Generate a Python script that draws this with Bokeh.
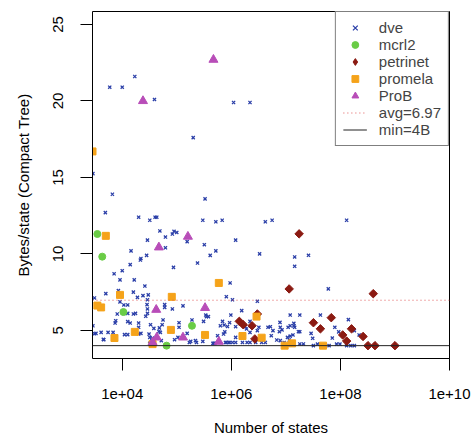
import numpy as np
from bokeh.plotting import figure
from bokeh.models import (Range1d, FixedTicker, CustomJSTickFormatter,
                          Legend, LegendItem)
from bokeh.embed import file_html
from bokeh.resources import INLINE

# ---- data: number of states vs bytes/state per tool ----
dve_states = [
    1.7e4, 5.9e3, 1.0e4, 3.9e4, 1.1e6, 2.2e6, 2.0e5, 2.9e3, 6.6e3, 4.9e3,
    3.3e5, 2.0e4, 3.2e4, 4.0e4, 4.3e4, 3.0e5, 5.2e5, 6.8e5, 4.2e6, 5.6e6,
    1.3e8, 4.9e4, 8.9e4, 1.0e5, 8.3e4, 1.55e5, 2.9e4, 6.2e4, 1.2e6, 6.2e4,
    3.2e5, 1.45e4, 5.2e5, 2.8e4, 2.2e4, 2.15e4, 4.1e5, 1.4e4, 2.4e5, 8.7e4,
    3.3e6, 1.45e7, 2.6e7, 1.45e7, 9.5e5, 7.1e3, 1.0e4, 9.1e3, 1.66e4, 2.6e4,
    8.5e3, 5.0e3, 3.1e3, 1.6e4, 2.4e4, 1.9e4, 3.0e4, 2.9e4, 9.1e3, 1.07e4,
    1.26e4, 2.85e4, 2.9e4, 2.9e4, 6.0e4, 6.0e4, 8.3e4, 1.3e5, 8.1e3, 1.07e4,
    1.26e4, 1.6e4, 1.75e4, 7.6e3, 7.4e3, 1.26e4, 1.4e4, 2.0e4, 2.7e4, 3.3e4,
    5.4e4, 5.6e4, 4.8e4, 4.7e4, 3.8e4, 1.1e5, 1.1e5, 1.9e5, 1.55e5, 3.3e3,
    4.1e3, 5.5e3, 6.8e3, 4.6e3, 1.1e4, 1.26e4, 2.0e4, 2.2e4, 3.1e4, 3.2e4,
    3.5e4, 3.6e4, 3.2e4, 5.2e4, 9.1e4, 1.05e5, 1.7e5, 2.3e5, 8.1e5, 1.05e6,
    3.0e6, 3.4e5, 3.8e5, 3.1e5, 6.9e5, 1.55e6, 9.8e5, 2.2e6, 3.2e6, 4.7e6,
    7.8e6, 7.6e6, 1.2e7, 1.7e7, 1.4e7, 1.45e7, 5.6e5, 7.2e5, 1.2e6, 1.8e6,
    1.9e6, 2.2e6, 3.0e6, 5.4e6, 5.8e6, 6.8e6, 1.15e7, 1.8e5, 2.2e5, 3.0e5,
    4.6e5, 4.8e5, 7.8e5, 8.1e5, 8.9e5, 9.3e5, 1.05e6, 1.2e6, 1.6e6, 1.95e6,
    2.2e6, 2.8e6, 3.6e6, 4.2e6, 1.2e6, 7.9e6, 1.1e7, 1.2e7, 1.4e7, 1.07e7,
    1.2e7, 1.35e7, 1.8e7, 2.9e7, 3.1e7, 7.9e7, 7.1e7, 9.3e7, 1.8e8, 2.2e8,
    1.8e7, 2.1e7, 3.2e7, 3.8e7, 6.2e7, 8.5e7, 9.8e7, 1.3e8, 1.55e8, 1.8e8,
    7.9e6, 9.3e6, 1.8e7, 4.3e7, 1.4e8, 6.0e7, 2.9e3, 3.1e3, 4.5e3, 2.0e4,
    5.0e5, 3.5e5, 6.3e5, 7.4e5, 8.5e5, 9.3e5, 7.6e5, 5.2e6, 8.5e6, 5.0e4,
]
dve_bytes = [
    21.6, 20.9, 20.9, 20.1, 19.9, 19.9, 17.6, 15.25, 13.9, 12.7,
    13.6, 12.4, 12.2, 12.4, 12.4, 12.2, 12.1, 12.2, 12.1, 12.2,
    12.2, 11.5, 11.48, 11.4, 11.3, 10.8, 10.9, 11.1, 10.9, 10.4,
    10.6, 10.2, 10.2, 9.9, 9.7, 9.6, 9.9, 9.3, 9.4, 9.12,
    10.0, 9.8, 9.91, 9.19, 8.1, 8.7, 8.9, 8.3, 8.3, 7.9,
    7.6, 7.4, 7.12, 7.5, 7.27, 7.16, 7.32, 7.0, 6.86, 6.66,
    6.66, 6.68, 6.4, 6.11, 6.68, 6.5, 6.4, 6.6, 6.07, 6.11,
    6.11, 6.07, 6.11, 5.63, 5.48, 5.57, 5.48, 5.48, 5.92, 5.37,
    5.37, 5.68, 5.16, 4.93, 5.13, 5.5, 5.2, 5.68, 4.8, 4.8,
    4.87, 4.87, 4.87, 4.39, 4.72, 4.72, 4.76, 4.8, 4.76, 4.54,
    4.33, 4.5, 4.15, 4.33, 4.39, 4.54, 4.21, 4.21, 7.2, 7.0,
    6.9, 6.0, 5.9, 5.59, 5.59, 6.29, 6.0, 5.59, 5.2, 5.2,
    5.52, 4.91, 6.0, 4.91, 5.46, 5.2, 4.65, 4.76, 5.24, 5.24,
    5.09, 4.87, 4.98, 4.65, 4.98, 4.37, 4.37, 4.28, 4.33, 4.28,
    4.15, 4.15, 4.21, 4.21, 4.21, 4.21, 4.21, 4.21, 4.21, 4.21,
    4.21, 4.21, 4.21, 4.21, 4.54, 5.2, 5.2, 5.3, 5.29, 4.54,
    4.62, 4.7, 4.91, 4.8, 4.48, 5.2, 4.5, 4.9, 4.98, 4.7,
    4.11, 4.11, 4.0, 4.1, 4.0, 4.1, 4.1, 4.0, 4.0, 4.0,
    4.33, 4.21, 6.0, 6.0, 5.7, 7.71, 5.3, 4.78, 4.41, 5.2,
    4.15, 5.9, 5.3, 5.35, 5.25, 5.5, 4.9, 5.24, 5.03, 4.87,
]

mcrl2_states = [3.5e3, 4.3e3, 1.05e4, 1.9e5, 6.5e4]
mcrl2_bytes = [11.3, 9.82, 6.2, 5.3, 4.0]

petrinet_states = [1.75e7, 1.15e7, 4.0e8, 6.8e7, 3.2e7, 4.3e7, 1.6e8, 1.1e8, 2.6e8,
                   1.3e8, 3.2e8, 4.3e8, 1.0e9, 1.4e6, 1.65e6, 2.4e6, 2.7e6, 3.0e6]
petrinet_bytes = [11.31, 7.71, 7.4, 5.83, 5.5, 5.1, 5.1, 4.7, 4.6,
                  4.3, 4.0, 4.0, 4.0, 5.59, 5.37, 5.3, 4.44, 6.07]

promela_states = [2.85e3, 5.0e3, 5.9e5, 9.1e3, 8.1e4, 3.5e3, 4.1e3, 1.7e4, 7.2e3,
                  7.8e4, 3.3e5, 3.6e4, 2.9e6, 1.6e6, 3.6e6, 9.5e6, 1.3e7, 4.8e7]
promela_bytes = [16.7, 11.18, 8.1, 7.32, 7.19, 6.62, 6.5, 4.9, 4.5,
                 5.03, 4.7, 4.1, 5.9, 4.63, 4.52, 4.0, 4.15, 4.0]

prob_states = [4.7e5, 2.4e4, 1.6e5, 4.7e4, 4.2e4, 3.3e5, 4.3e4, 1.3e5, 3.6e4, 5.9e5]
prob_bytes = [22.7, 20.0, 11.13, 10.43, 6.35, 6.47, 4.54, 4.54, 4.21, 4.26]

avg_bytes = 6.97
min_bytes = 4.0

x_ticks = [1e4, 1e6, 1e8, 1e10]
y_ticks = [5, 10, 15, 20, 25]

FONT = "Liberation Sans"
X_LO, X_HI = 2.85e3, 1e10

p = figure(width=474, height=438, x_axis_type="log",
           x_range=Range1d(X_LO, X_HI), y_range=Range1d(3.16, 25.85),
           output_backend="svg", toolbar_location=None,
           min_border_left=92, min_border_right=25,
           min_border_top=11, min_border_bottom=80)
p.xgrid.visible = False
p.ygrid.visible = False
p.outline_line_color = "black"
p.outline_line_width = 1
p.outline_line_alpha = 1

# markers
r_dve = p.scatter(dve_states, dve_bytes, marker="x", size=4.5,
                  line_color="#2b3fa8", line_width=1.3)
r_mcrl2 = p.scatter(mcrl2_states, mcrl2_bytes, marker="circle", size=7,
                    fill_color="#6acc46", line_color="#6acc46")
# petrinet: slim diamond (used by the legend) under a square turned 45 degrees
r_petri = p.scatter(petrinet_states, petrinet_bytes, marker="diamond", size=6,
                    fill_color="#8b1a12", line_color="#8b1a12")
p.scatter(petrinet_states, petrinet_bytes, marker="square", angle=np.pi / 4,
          size=6, fill_color="#8b1a12", line_color="#8b1a12")
r_prom = p.scatter(promela_states, promela_bytes, marker="square", size=7,
                   fill_color="#f5a31a", line_color="#f5a31a")
r_prob = p.scatter(prob_states, prob_bytes, marker="triangle", size=9,
                   fill_color="#b84db8", line_color="#b84db8")

# reference lines across the whole x range
r_avg = p.line(x=[X_LO, X_HI], y=[avg_bytes, avg_bytes], line_color="#e05a5a",
               line_width=1, line_dash="1 3")
r_min = p.line(x=[X_LO, X_HI], y=[min_bytes, min_bytes], line_color="#222222",
               line_width=1)

# axes
p.xaxis.ticker = FixedTicker(ticks=x_ticks)
p.xaxis.formatter = CustomJSTickFormatter(code="""
const e = Math.round(Math.log10(tick));
return '1e+' + (e < 10 ? '0' + e : String(e));
""")
p.xaxis.bounds = (x_ticks[0], x_ticks[-1])
p.yaxis.ticker = FixedTicker(ticks=y_ticks)
p.yaxis.bounds = (y_ticks[0], y_ticks[-1])
p.yaxis.major_label_orientation = "vertical"

for ax in (p.xaxis, p.yaxis):
    ax.axis_line_color = "black"
    ax.major_tick_line_color = "black"
    ax.major_tick_out = 12
    ax.major_tick_in = 0
    ax.minor_tick_line_color = None
    ax.major_label_text_font = FONT
    ax.major_label_text_font_size = "15px"
    ax.major_label_text_color = "black"
    ax.axis_label_text_font = FONT
    ax.axis_label_text_font_size = "15px"
    ax.axis_label_text_font_style = "normal"
    ax.axis_label_text_color = "black"

p.xaxis.axis_label = "Number of states"
p.yaxis.axis_label = "Bytes/state (Compact Tree)"
p.xaxis.major_label_standoff = 18
p.xaxis.axis_label_standoff = 17
p.yaxis.major_label_standoff = 17
p.yaxis.axis_label_standoff = 19

legend = Legend(items=[
    LegendItem(label="dve", renderers=[r_dve]),
    LegendItem(label="mcrl2", renderers=[r_mcrl2]),
    LegendItem(label="petrinet", renderers=[r_petri]),
    LegendItem(label="promela", renderers=[r_prom]),
    LegendItem(label="ProB", renderers=[r_prob]),
    LegendItem(label="avg=" + str(avg_bytes), renderers=[r_avg]),
    LegendItem(label="min=" + str(int(min_bytes)) + "B", renderers=[r_min]),
], location="top_right")
legend.margin = 0
legend.padding = 7
legend.spacing = 0
legend.label_height = 17
legend.glyph_height = 17
legend.glyph_width = 24
legend.label_standoff = 12
legend.label_text_font = FONT
legend.label_text_font_size = "15px"
legend.label_text_line_height = 0.9
legend.border_line_color = "black"
legend.border_line_width = 1
legend.background_fill_color = "white"
legend.background_fill_alpha = 1
p.add_layout(legend)

open("out.html", "w").write(file_html(p, INLINE))
